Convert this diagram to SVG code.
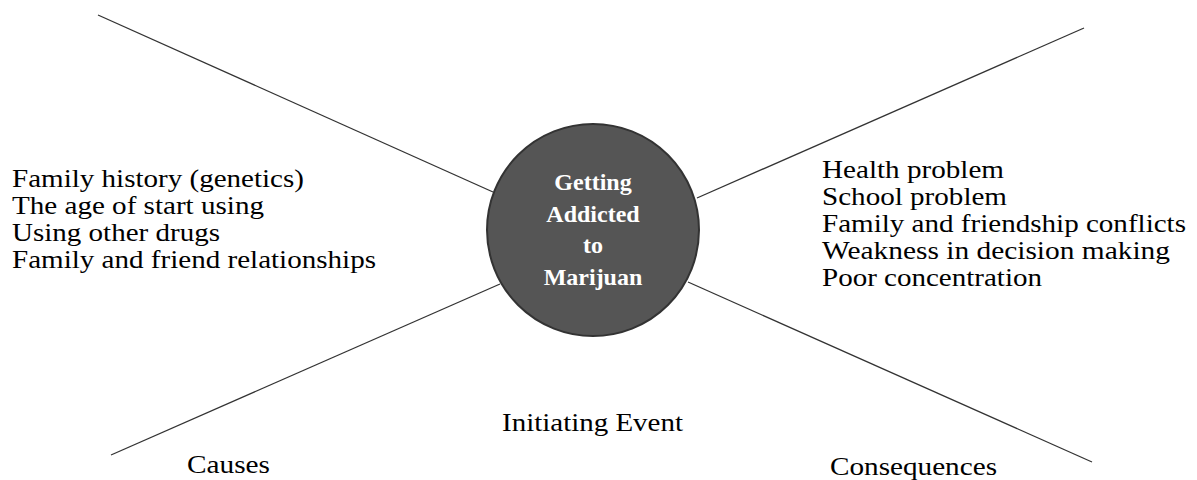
<svg xmlns="http://www.w3.org/2000/svg" width="1197" height="480" viewBox="0 0 1197 480">
<style>
.t{font-family:"Liberation Serif","Times New Roman",serif;font-size:26px;fill:#000}
.m{text-anchor:middle}
.c{font-family:"Liberation Serif","Times New Roman",serif;font-size:24px;font-weight:bold;fill:#fff;text-anchor:middle}
.ln{stroke:#333;stroke-width:1.3;fill:none}
</style>
<rect width="1197" height="480" fill="#fff"/>
<g id="connectors">
<line class="ln" x1="98" y1="15" x2="493" y2="192"/>
<line class="ln" x1="1084" y1="28" x2="697" y2="198"/>
<line class="ln" x1="111" y1="455" x2="500" y2="284"/>
<line class="ln" x1="1092" y1="462" x2="688" y2="282"/>
</g>
<g id="center">
<circle cx="593" cy="230" r="106" fill="#555" stroke="#333" stroke-width="2"/>
<text class="c" x="593" y="190">Getting</text>
<text class="c" x="593" y="222">Addicted</text>
<text class="c" x="593" y="253">to</text>
<text class="c" x="593" y="285">Marijuan</text>
</g>
<g id="causes-list">
<text class="t" x="12" y="187" textLength="292" lengthAdjust="spacingAndGlyphs">Family history (genetics)</text>
<text class="t" x="12" y="214" textLength="252" lengthAdjust="spacingAndGlyphs">The age of start using</text>
<text class="t" x="12" y="241" textLength="208" lengthAdjust="spacingAndGlyphs">Using other drugs</text>
<text class="t" x="12" y="268" textLength="364" lengthAdjust="spacingAndGlyphs">Family and friend relationships</text>
</g>
<g id="consequences-list">
<text class="t" x="822" y="178" textLength="182" lengthAdjust="spacingAndGlyphs">Health problem</text>
<text class="t" x="822" y="205" textLength="185" lengthAdjust="spacingAndGlyphs">School problem</text>
<text class="t" x="822" y="232" textLength="364" lengthAdjust="spacingAndGlyphs">Family and friendship conflicts</text>
<text class="t" x="822" y="259" textLength="348" lengthAdjust="spacingAndGlyphs">Weakness in decision making</text>
<text class="t" x="822" y="286" textLength="220" lengthAdjust="spacingAndGlyphs">Poor concentration</text>
</g>
<g id="labels">
<text class="t" x="502" y="431" textLength="181" lengthAdjust="spacingAndGlyphs">Initiating Event</text>
<text class="t" x="187" y="473" textLength="83" lengthAdjust="spacingAndGlyphs">Causes</text>
<text class="t" x="830" y="475" textLength="167" lengthAdjust="spacingAndGlyphs">Consequences</text>
</g>
</svg>
